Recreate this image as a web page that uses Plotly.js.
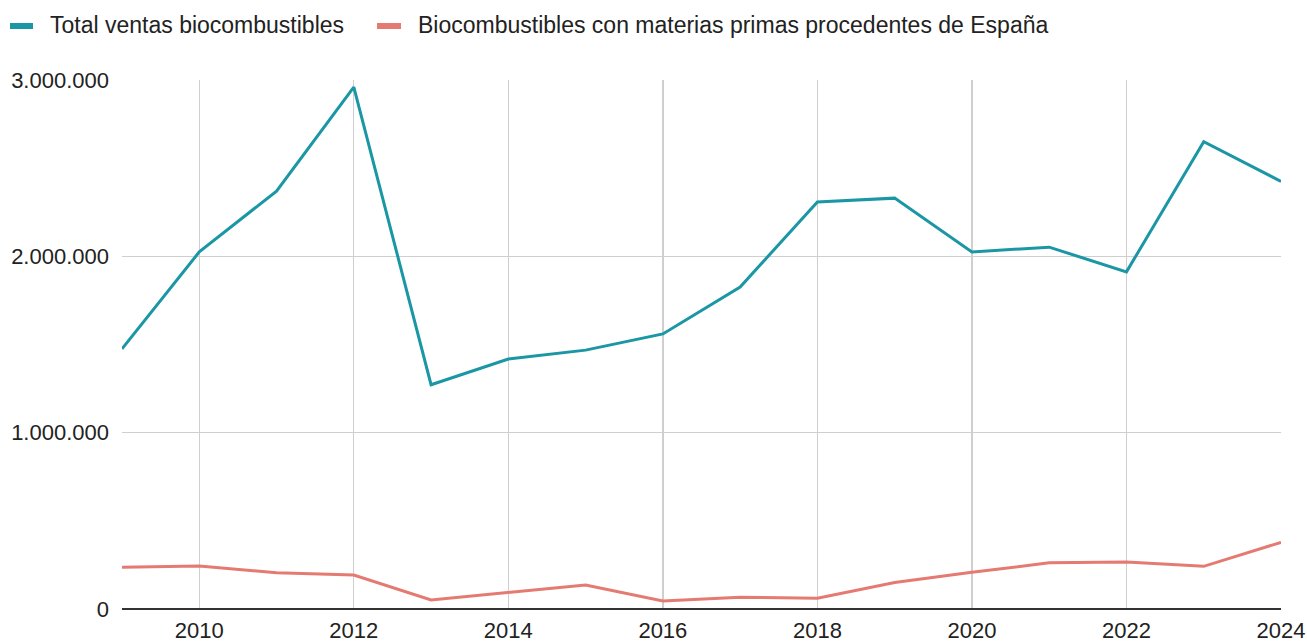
<!DOCTYPE html>
<html>
<head>
<meta charset="utf-8">
<script src="https://cdn.plot.ly/plotly-3.0.1.min.js"></script>
<style>html,body{margin:0;padding:0;background:#fff;}#chart{width:1307px;height:642px;}</style>
</head>
<body>
<div id="chart"></div>
<script>
const years = [2009,2010,2011,2012,2013,2014,2015,2016,2017,2018,2019,2020,2021,2022,2023,2024];
const totalVentas = [1475000,2025000,2370000,2960000,1272000,1418000,1468000,1560000,1826000,2308000,2330000,2025000,2052000,1912000,2650000,2425000];
const materiasEspana = [237000,244000,206000,193000,51000,95000,136000,45000,67000,61000,150000,208000,262000,266000,242000,378000];
const seriesNames = ["Total ventas biocombustibles","Biocombustibles con materias primas procedentes de España"];
const seriesColors = ["#1a96a5", "#e57a72"];
const yTicks = [0,1000000,2000000,3000000];
const xTicks = [2010,2012,2014,2016,2018,2020,2022,2024];

const font = "Liberation Sans, Arial, sans-serif";
const traces = [
  {x: years, y: totalVentas, name: seriesNames[0], type: "scatter", mode: "lines",
   line: {color: seriesColors[0], width: 3}, showlegend: false},
  {x: years, y: materiasEspana, name: seriesNames[1], type: "scatter", mode: "lines",
   line: {color: seriesColors[1], width: 3}, showlegend: false}
];

// Custom legend (rectangular swatches + text), placed relative to plot area
const legendItems = [{sx0: -112, sx1: -89, tx: -73}, {sx0: 255, sx1: 279, tx: 295}];
const shapes = legendItems.map((it, i) => ({
  type: "rect", xref: "paper", yref: "paper", xsizemode: "pixel", ysizemode: "pixel",
  xanchor: 0, yanchor: 1, x0: it.sx0, x1: it.sx1, y0: 51, y1: 57,
  fillcolor: seriesColors[i], line: {width: 0}
}));
const annotations = legendItems.map((it, i) => ({
  xref: "paper", yref: "paper", x: 0, y: 1, xanchor: "left", yanchor: "middle",
  xshift: it.tx - 1, yshift: 55, showarrow: false, text: seriesNames[i],
  font: {family: font, size: 23, color: "#222"}
}));

const layout = {
  width: 1307, height: 642,
  margin: {l: 122, r: 26, t: 80, b: 33},
  paper_bgcolor: "#fff", plot_bgcolor: "#fff",
  separators: ",.",
  font: {family: font, size: 22, color: "#222"},
  showlegend: false,
  shapes: shapes,
  annotations: annotations,
  xaxis: {range: [2009, 2024], tickvals: xTicks, ticktext: xTicks.map(String), showgrid: true,
          gridcolor: "#cfcfcf", gridwidth: 1.3, zeroline: false, showline: false, ticks: "",
          ticklabelstandoff: 6,
          tickfont: {family: font, size: 22, color: "#222"}, fixedrange: true},
  yaxis: {range: [0, 3000000], tickvals: yTicks, tickformat: ",d", showgrid: true,
          gridcolor: "#cfcfcf", gridwidth: 1.3, zeroline: true, zerolinecolor: "#333", zerolinewidth: 1.5,
          showline: false, ticks: "", ticklabelstandoff: 12,
          tickfont: {family: font, size: 22, color: "#222"}, fixedrange: true}
};
Plotly.newPlot("chart", traces, layout, {displayModeBar: false, staticPlot: true});
</script>
</body>
</html>
